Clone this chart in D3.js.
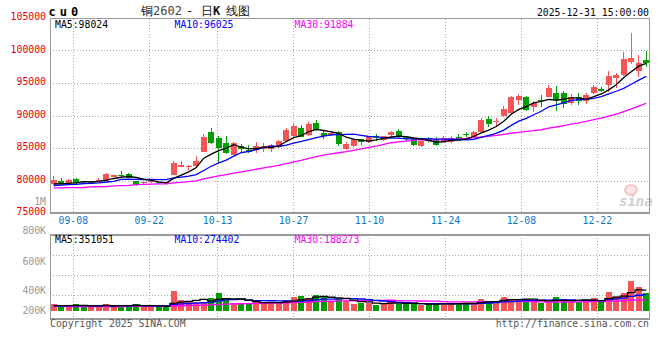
<!DOCTYPE html>
<html><head><meta charset="utf-8">
<script src="https://cdn.jsdelivr.net/npm/d3@7"></script>
<style>
html,body{margin:0;padding:0;background:#fff;}
svg{display:block;}
text{font-family:"DejaVu Sans Mono",monospace;}
</style></head><body>
<svg id="chart" width="660" height="360"></svg>
<script>
const dates = ["09-03","09-04","09-05","09-08","09-09","09-10","09-11","09-12","09-15","09-16","09-17","09-18","09-19","09-22","09-23","09-24","09-25","09-26","09-29","09-30",
"10-09","10-10","10-13","10-14","10-15","10-16","10-17","10-20","10-21","10-22","10-23","10-24","10-27","10-28","10-29","10-30","10-31",
"11-03","11-04","11-05","11-06","11-07","11-10","11-11","11-12","11-13","11-14","11-17","11-18","11-19","11-20","11-21","11-24","11-25","11-26","11-27","11-28",
"12-01","12-02","12-03","12-04","12-05","12-08","12-09","12-10","12-11","12-12","12-15","12-16","12-17","12-18","12-19","12-22","12-23","12-24","12-25","12-26","12-29","12-30","12-31"];
const openP = [79410,79970,79660,80230,79920,79540,79850,79970,80580,80770,81000,79920,79570,79750,79700,79720,80850,82120,82050,82230,
84430,87460,86580,85720,83920,85310,84690,84650,84850,84850,85110,86150,86850,88080,87000,88850,87350,
86950,87460,84850,85310,86340,85880,86890,86290,87000,87650,86690,86350,85340,86540,86430,85970,85970,86690,87200,86740,
87510,89460,89060,89920,90340,92380,92890,91350,92420,92890,93460,93420,91970,92850,92280,93420,94080,94690,95820,96230,98280,96850,98540];
const highP = [80690,80390,80230,80430,80000,79920,80310,81200,80920,81460,81200,80000,79920,79980,79780,79780,83000,83000,82380,83770,
87100,88080,86850,86850,85920,85570,85460,85970,85820,85540,86230,88030,88900,88540,89050,89310,87770,
87540,87620,85970,86460,86430,86850,87150,86920,87660,87920,86850,86460,86310,86740,86690,86770,86850,87110,87420,87540,
89570,89920,89570,91460,93050,93310,93050,92230,93150,94690,94540,93820,93310,93420,93420,94690,94430,96850,96580,99820,102740,99310,99920];
const lowP = [79310,79460,79540,79460,79620,79460,79770,79920,80540,80540,80380,79230,79460,79690,79520,79540,80770,82080,81600,82150,
84380,85600,82650,84030,83850,84280,84190,84280,84430,84430,85000,86080,86690,86620,86920,87620,86380,
86850,85310,84690,85230,85460,85770,86120,86150,86740,86540,86150,85380,85230,85970,85380,85850,85720,86230,86740,86690,
87460,88280,88280,89770,90230,91620,90690,90580,91350,92850,90690,91200,91620,91620,91770,93260,93570,93660,94180,96150,97920,95970,97510];
const closeP = [80080,79620,80120,79570,79720,79800,80150,81000,80850,80690,80430,79310,79820,79850,79600,79620,82740,82380,82300,83000,
86740,85820,85050,84180,85820,84890,84380,85310,85310,85460,86080,87770,88380,86740,88690,87770,86880,
87350,85620,85690,86340,85920,86740,86490,86850,87460,86620,86310,85460,86150,86120,85510,86540,86490,86430,86950,87420,
89310,88690,89120,91000,92890,93000,90850,91970,92260,94280,92380,91720,92890,92280,93150,94430,93820,96080,96230,98690,98850,98120,98120];
const volume = [114300,93800,63200,111400,66100,76800,77200,114100,65900,94200,76700,111200,68100,77300,76900,58200,335100,182300,148200,147800,
145100,216300,301200,216100,131200,130800,131100,160300,130900,131200,131100,182200,233100,250200,215800,267100,249800,
160200,204100,159800,119200,126100,136200,101800,126200,160100,118900,119300,108800,92200,114100,125800,136100,92300,126100,131200,130800,
199100,165200,147900,233200,198800,199100,199200,160100,131100,148200,232900,199200,148100,147900,182100,216200,159900,318100,250200,301100,505200,403100,301200];
const ma5 = [79460,79520,79570,79640,79820,79770,79870,80050,80310,80500,80630,80460,80220,80020,79800,79640,80330,80840,81330,82010,
83430,84050,84580,84960,85520,85150,84870,84920,85140,85070,85310,85990,86600,86890,87530,87870,87690,
87490,87260,86660,86380,86180,86060,86240,86470,86690,86830,86750,86540,86400,86130,85910,85960,86160,86220,86390,86770,
87320,87760,88300,89110,90200,90940,91370,91940,92190,92470,92350,92520,92710,92710,92490,92900,93310,93950,94740,95850,96730,97590,98024];
const ma10 = [79230,79310,79350,79390,79540,79570,79620,79770,79850,80160,80200,80170,80130,80160,80150,80130,80390,80530,80670,80900,
81540,82190,82710,83140,83760,84290,84460,84750,85050,85300,85230,85430,85760,86010,86300,86590,86840,
87040,87070,87100,87120,86940,86770,86750,86560,86530,86510,86400,86390,86430,86410,86370,86350,86350,86310,86260,86340,
86640,86960,87260,87750,88490,89130,89570,90120,90650,91340,91650,91950,92330,92450,92480,92620,92920,93330,93730,94170,94810,95450,96025];
const ma30 = [78870,78880,78890,78900,78920,79020,79040,79060,79170,79200,79250,79380,79410,79440,79470,79500,79620,79720,79840,79950,
80250,80490,80700,80900,81120,81330,81520,81730,81940,82120,82320,82590,82870,83110,83410,83670,83900,
84110,84270,84430,84630,84850,85080,85300,85540,85810,85930,86070,86170,86280,86260,86250,86290,86370,86390,86460,86560,
86700,86810,86930,87090,87270,87420,87560,87670,87810,88060,88230,88430,88670,88870,89110,89370,89610,89920,90210,90610,91030,91450,91884];
const vma5 = [85000,86000,87000,88000,89600,82200,78800,89000,80000,85600,85600,92400,83200,85400,82000,78200,123000,145800,160000,174200,
191600,167800,191600,205200,201800,199000,182000,153800,136800,136800,136800,147000,161600,185400,202400,229600,243200,
228600,219400,208200,178600,153800,149000,128600,121800,130000,128600,125200,126600,119800,110600,112000,115400,112000,118800,122200,123200,
135800,150400,154800,175200,188800,188800,195600,198000,177600,167400,174200,174200,171800,175200,182000,178600,170800,204800,225200,249000,306800,355400,351051];
const vma10 = [84000,84000,85000,85000,86000,86000,86000,87000,87000,87600,83900,85600,86100,82700,83800,81900,107700,114500,122700,128100,
134900,145400,168700,182600,188000,195300,174900,172700,171000,169300,167900,164500,157700,161100,169600,183200,195100,
195100,202400,205300,204100,198500,188800,174000,165000,154300,141200,137100,127600,120800,120300,120300,120300,119300,119300,116400,117600,
125600,131200,136800,148700,156000,162300,173000,176400,176400,178100,181500,184900,184900,176400,174700,176400,172500,188300,200200,215500,242700,263100,274402];
const vma30 = [72000,72000,71000,71000,71000,71000,71000,71000,71000,71000,72000,72000,72000,72000,72000,72000,80000,84000,88000,91000,
94000,99000,107000,112000,115000,118000,121000,124000,126000,128300,128900,131800,137500,142100,147100,153500,159200,
160800,165400,167600,169000,169500,171700,172600,174200,177600,170400,168300,167000,165100,164100,161100,155600,151500,151300,151300,151300,
152600,153700,154300,157700,158300,157100,155400,153600,149000,145600,148100,147900,147500,148500,150300,153000,154900,161300,164300,170400,178000,185000,188273];
const priceTicks = [75000,80000,85000,90000,95000,100000,105000];
const volTicks = [200000,400000,600000,800000];
const dateTicks = ["09-08","09-22","10-13","10-27","11-10","11-24","12-08","12-22"];
const titleCode = "cu0";
const titleName = ["铜","2602","-","日","K","线图"];
const stamp = "2025-12-31 15:00:00";

const svg = d3.select("#chart");
const L = 50, R = 650;
const RED = "#f75555", GREEN = "#009e00", GRID = "#a8a8a8", BORDER = "#9a9a9a";

const xb = d3.scaleBand().domain(dates).range([L, R]).paddingInner(0.2).paddingOuter(0.1);
const xg = d3.scalePoint().domain(dates).range([L, R]);
const bw = xb.bandwidth();
const cx = d => xb(d) + bw / 2;
const yP = d3.scaleLinear().domain([75000, 105000]).range([213, 18]);
const yV = d3.scaleLinear().domain([0, 1304000]).range([310.7, 234]);
const yVLab = d3.scaleLinear().domain(volTicks).range([310, 290.7, 261, 230.7]);

const rows = dates.map((d, i) => ({d, o: openP[i], h: highP[i], l: lowP[i], c: closeP[i], v: volume[i]}));
const col = r => r.c >= r.o ? RED : GREEN;

// grid
const g = svg.append("g");
g.selectAll(".hg").data(priceTicks.slice(1, -1)).join("line")
  .attr("x1", L).attr("x2", R).attr("y1", d => Math.round(yP(d)) + 0.5).attr("y2", d => Math.round(yP(d)) + 0.5)
  .attr("stroke", GRID).attr("stroke-dasharray", "1,2");
g.selectAll(".vg").data([255, 275, 295]).join("line")
  .attr("x1", L).attr("x2", R).attr("y1", d => d + 0.5).attr("y2", d => d + 0.5)
  .attr("stroke", GRID).attr("stroke-dasharray", "1,2");
dateTicks.forEach(t => {
  const x = Math.round(xg(t)) + 0.5;
  g.append("line").attr("x1", x).attr("x2", x).attr("y1", 19).attr("y2", 212).attr("stroke", GRID).attr("stroke-dasharray", "1,2");
  g.append("line").attr("x1", x).attr("x2", x).attr("y1", 235).attr("y2", 318).attr("stroke", GRID).attr("stroke-dasharray", "1,2");
});

// watermark
const wm = svg.append("g").attr("opacity", 0.8);
wm.append("ellipse").attr("cx", 631).attr("cy", 190).attr("rx", 6).attr("ry", 5).attr("fill", "#fbdede").attr("stroke", "#f2a8a8").attr("stroke-width", 1.5);
wm.append("text").attr("x", 619).attr("y", 206).attr("font-family", "DejaVu Sans").attr("font-style", "italic").attr("font-weight", "bold")
  .attr("font-size", 14).attr("fill", "#c4c4c4").text("sina");

// candles
const cg = svg.append("g").attr("shape-rendering", "crispEdges");
cg.selectAll(".wick").data(rows).join("rect")
  .attr("x", r => Math.floor(cx(r.d))).attr("width", 1)
  .attr("y", r => yP(r.h)).attr("height", r => Math.max(1, yP(r.l) - yP(r.h)))
  .attr("fill", col);
cg.selectAll(".body").data(rows).join("rect")
  .attr("x", r => xb(r.d)).attr("width", bw)
  .attr("y", r => yP(Math.max(r.o, r.c))).attr("height", r => Math.max(1, Math.abs(yP(r.o) - yP(r.c))))
  .attr("fill", col);

// volume bars
cg.selectAll(".vbar").data(rows).join("rect")
  .attr("x", r => xb(r.d)).attr("width", bw)
  .attr("y", r => yV(r.v)).attr("height", r => yV(0) - yV(r.v))
  .attr("fill", col);

// MA lines
const maLine = d3.line().x((v, i) => cx(dates[i])).y(v => yP(v));
[[ma30, "#ff00ff"], [ma10, "#0000ff"], [ma5, "#000000"]].forEach(([arr, c]) => {
  svg.append("path").attr("d", maLine(arr)).attr("fill", "none").attr("stroke", c).attr("stroke-width", 1.3);
});
const vLine = d3.line().curve(d3.curveStep).x((v, i) => cx(dates[i])).y(v => yV(v));
[[vma30, "#ff00ff"], [vma10, "#0000ff"], [vma5, "#000000"]].forEach(([arr, c]) => {
  svg.append("path").attr("d", vLine(arr)).attr("fill", "none").attr("stroke", c).attr("stroke-width", 1.3);
});

// borders
const bd = svg.append("g").attr("stroke", BORDER).attr("shape-rendering", "crispEdges");
bd.append("line").attr("x1", L).attr("x2", R).attr("y1", 18.5).attr("y2", 18.5);
bd.append("line").attr("x1", L + 0.5).attr("x2", L + 0.5).attr("y1", 18).attr("y2", 214);
bd.append("line").attr("x1", R - 0.5).attr("x2", R - 0.5).attr("y1", 18).attr("y2", 214);
bd.append("line").attr("x1", L).attr("x2", R).attr("y1", 213).attr("y2", 213).attr("stroke-width", 2);
bd.append("line").attr("x1", L).attr("x2", R).attr("y1", 234.5).attr("y2", 234.5).attr("stroke-width", 2);
bd.append("line").attr("x1", L).attr("x2", R).attr("y1", 318.5).attr("y2", 318.5).attr("stroke-width", 2);
bd.append("line").attr("x1", L + 0.5).attr("x2", L + 0.5).attr("y1", 234).attr("y2", 319);
bd.append("line").attr("x1", R - 0.5).attr("x2", R - 0.5).attr("y1", 234).attr("y2", 319);

// axes
const FS = 9.8;
const pAx = svg.append("g").attr("transform", `translate(${L},-1.5)`)
  .call(d3.axisLeft(yP).tickValues(priceTicks).tickSize(0).tickPadding(4).tickFormat(d3.format("d")));
pAx.select(".domain").remove();
pAx.selectAll("text").attr("fill", "#e60000").attr("font-size", FS).attr("font-family", "DejaVu Sans Mono");

const vAx = svg.append("g").attr("transform", `translate(${L},0)`)
  .call(d3.axisLeft(yVLab).tickValues(volTicks).tickSize(0).tickPadding(4).tickFormat(d => (d / 1000) + "K"));
vAx.select(".domain").remove();
vAx.selectAll("text").attr("fill", "#999").attr("font-size", FS).attr("font-family", "DejaVu Sans Mono");

const dAx = svg.append("g").attr("transform", `translate(0,213)`)
  .call(d3.axisBottom(xg).tickValues(dateTicks).tickSize(0).tickPadding(4.5));
dAx.select(".domain").remove();
dAx.selectAll("text").attr("fill", "#0a78c8").attr("font-size", FS).attr("font-family", "DejaVu Sans Mono");

svg.append("text").attr("x", 46).attr("y", 204.5).attr("text-anchor", "end").attr("font-size", FS).attr("fill", "#999").text("1M");

// header
svg.append("text").attr("x", 48.5).attr("y", 15.5).attr("font-size", 12).attr("font-weight", "bold")
  .attr("letter-spacing", 4).attr("fill", "#000").text(titleCode);
const tt = svg.append("text").attr("y", 14.5).attr("font-size", 12).attr("fill", "#111").attr("font-family", "'Noto Sans CJK SC'");
const tx = [141, 153, 186, 201, 213, 226];
titleName.forEach((s, i) => {
  tt.append("tspan").attr("x", tx[i]).attr("font-weight", s === "K" ? "bold" : "normal")
    .attr("fill", s === "2602" ? "#444" : "#111").text(s);
});
svg.append("text").attr("x", 649).attr("y", 15.5).attr("text-anchor", "end").attr("font-size", FS).attr("fill", "#000").text(stamp);

const lastOf = a => a[a.length - 1];
const labs = [["MA5:", ma5, "#000", 55], ["MA10:", ma10, "#0000ff", 174.5], ["MA30:", ma30, "#ff00ff", 294.5]];
labs.forEach(([p, a, c, x]) => svg.append("text").attr("x", x).attr("y", 27.5).attr("font-size", FS).attr("fill", c).text(p + lastOf(a)));
const vlabs = [["MA5:", vma5, "#000", 55], ["MA10:", vma10, "#0000ff", 174.5], ["MA30:", vma30, "#ff00ff", 294.5]];
vlabs.forEach(([p, a, c, x]) => svg.append("text").attr("x", x).attr("y", 243).attr("font-size", FS).attr("fill", c).text(p + lastOf(a)));

svg.append("text").attr("x", 50).attr("y", 327).attr("font-size", FS).attr("fill", "#555").text("Copyright 2025 SINA.COM");
svg.append("text").attr("x", 649).attr("y", 327).attr("text-anchor", "end").attr("font-size", FS).attr("fill", "#555").text("http://finance.sina.com.cn");
</script>
</body></html>
